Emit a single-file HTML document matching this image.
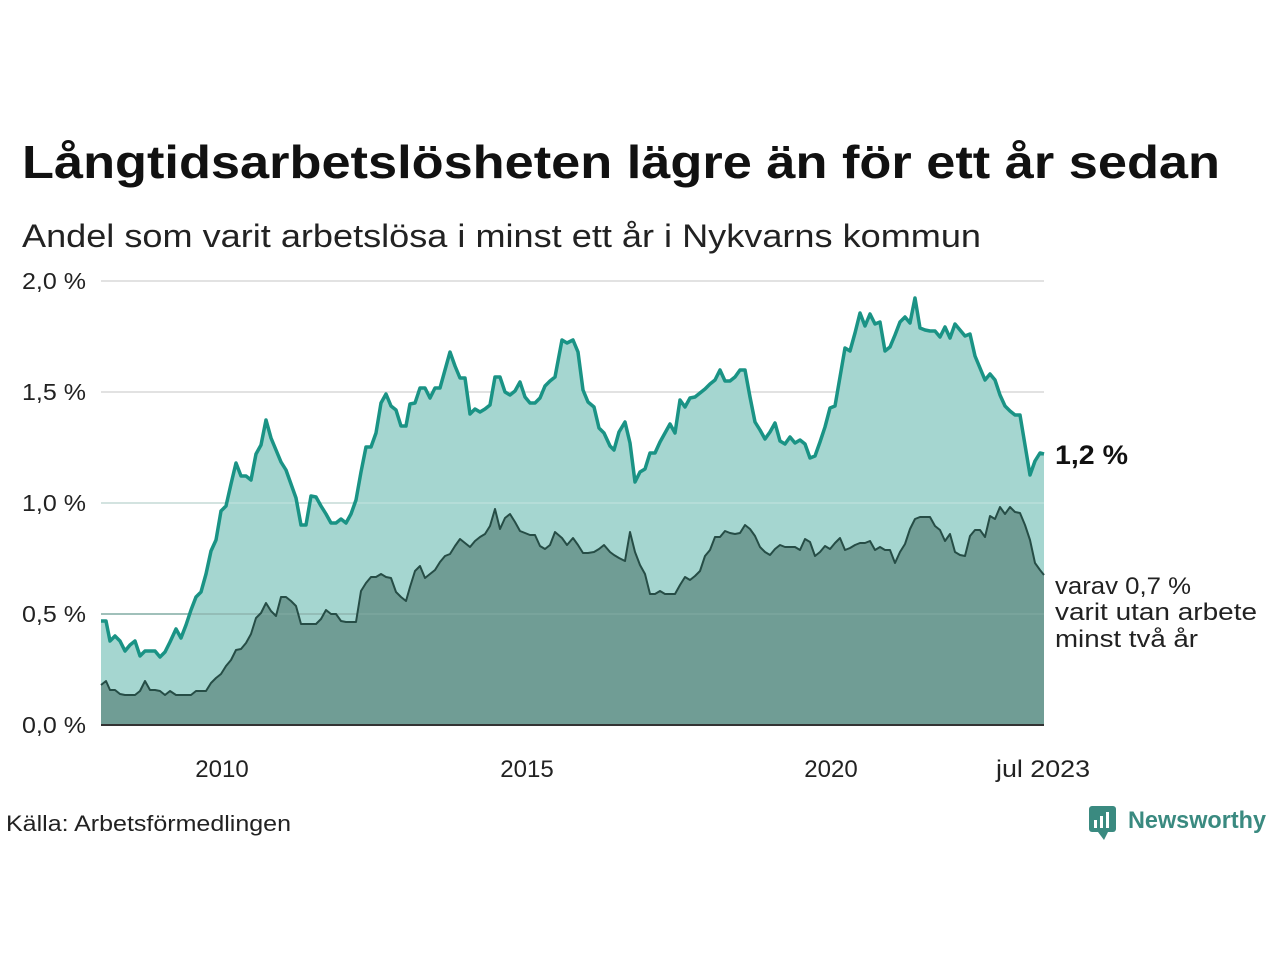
<!DOCTYPE html>
<html><head><meta charset="utf-8"><style>html,body{margin:0;padding:0;background:#fff}svg{display:block}</style></head><body>
<svg width="1280" height="960" viewBox="0 0 1280 960" xmlns="http://www.w3.org/2000/svg" font-family="Liberation Sans, DejaVu Sans, sans-serif">
<rect width="1280" height="960" fill="#fff"/>
<text x="22" y="178" font-size="46" font-weight="bold" fill="#111" textLength="1198" lengthAdjust="spacingAndGlyphs">Långtidsarbetslösheten lägre än för ett år sedan</text>
<text x="22" y="247" font-size="32" fill="#222" textLength="959" lengthAdjust="spacingAndGlyphs">Andel som varit arbetslösa i minst ett år i Nykvarns kommun</text>
<g stroke="#e2e2e2" stroke-width="2">
<line x1="101" y1="281" x2="1044" y2="281"/><line x1="101" y1="392" x2="1044" y2="392"/><line x1="101" y1="503" x2="1044" y2="503"/><line x1="101" y1="614" x2="1044" y2="614"/>
</g>
<g font-size="23" fill="#222">
<text x="22" y="289" textLength="64" lengthAdjust="spacingAndGlyphs">2,0 %</text><text x="22" y="400" textLength="64" lengthAdjust="spacingAndGlyphs">1,5 %</text><text x="22" y="511" textLength="64" lengthAdjust="spacingAndGlyphs">1,0 %</text><text x="22" y="622" textLength="64" lengthAdjust="spacingAndGlyphs">0,5 %</text><text x="22" y="733" textLength="64" lengthAdjust="spacingAndGlyphs">0,0 %</text>
</g>
<polygon fill="#a5d6d0" points="101,725 101,621 106,621 110,641 115,636 120,641 125,651 130,645 135,641 140,656 145,651 150,651 155,651 160,657 165,652 170,642 176,629 181,638 186,625 191,610 196,597 201,592 206,574 211,551 216,540 221,511 226,506 231,484 236,463 241,476 246,476 251,480 256,454 261,445 266,420 271,438 276,450 281,462 286,470 291,484 296,498 301,525 306,525 311,496 316,497 321,506 326,514 331,523 336,523 341,519 346,523 351,514 356,500 361,472 366,447 371,447 376,433 381,403 386,394 391,406 396,410 401,426 406,426 410,404 415,403 420,388 425,388 430,398 435,388 440,388 445,370 450,352 455,366 460,378 465,378 470,414 475,409 480,412 485,409 490,405 495,377 500,377 505,392 510,395 515,391 520,382 525,397 530,403 535,403 540,398 545,386 550,381 555,377 562,340 567,343 573,340 578,352 583,390 588,402 594,407 599,428 604,433 610,446 614,450 619,432 625,422 630,443 635,482 640,472 645,469 650,453 655,453 660,442 665,433 670,424 675,433 680,400 685,407 690,398 695,397 700,393 705,389 710,384 715,380 720,370 725,381 730,381 735,377 740,370 745,370 750,397 755,422 760,430 765,439 770,432 775,423 780,441 785,444 790,437 795,443 800,440 805,444 810,458 815,456 820,442 825,427 830,408 835,406 840,377 845,348 850,351 855,333 860,313 865,326 870,314 875,324 880,322 885,351 890,347 895,335 900,322 905,317 910,323 915,298 920,328 925,330 930,331 935,331 940,337 945,327 950,338 955,324 960,330 965,336 970,334 975,356 980,368 985,380 990,374 995,380 1000,395 1005,406 1010,411 1015,415 1020,415 1025,445 1030,475 1035,461 1040,453 1044,454 1044,725"/>
<g stroke="#c6e4e0" stroke-width="2" opacity="0.5">
<line x1="101" y1="503" x2="1044" y2="503"/><line x1="101" y1="614" x2="1044" y2="614"/></g>
<polygon fill="#709d95" points="101,725 101,685 106,681 110,690 115,690 120,694 125,695 130,695 135,695 140,691 145,681 150,690 155,690 160,691 165,695 170,691 176,695 181,695 186,695 191,695 196,691 201,691 206,691 211,683 216,678 221,674 226,666 231,660 236,650 241,649 246,643 251,634 256,618 261,613 266,603 271,611 276,616 281,597 286,597 291,601 296,606 301,624 306,624 311,624 316,624 321,619 326,610 331,614 336,614 341,621 346,622 351,622 356,622 361,591 366,583 371,577 376,577 381,574 386,577 391,578 396,592 401,597 406,601 410,587 415,571 420,566 425,578 430,574 435,570 440,562 445,556 450,554 455,546 460,539 465,543 470,547 475,541 480,537 485,534 490,526 495,509 500,529 505,518 510,514 515,522 520,531 525,533 530,535 535,535 540,546 545,549 550,545 555,532 562,538 567,545 573,538 578,545 583,553 588,553 594,552 599,549 604,545 610,552 614,555 619,558 625,561 630,532 635,552 640,565 645,574 650,594 655,594 660,591 665,594 670,594 675,594 680,585 685,577 690,580 695,576 700,571 705,556 710,550 715,537 720,537 725,531 730,533 735,534 740,533 745,525 750,529 755,536 760,547 765,552 770,555 775,549 780,545 785,547 790,547 795,547 800,550 805,539 810,542 815,556 820,552 825,546 830,549 835,543 840,538 845,550 850,548 855,545 860,543 865,543 870,541 875,550 880,547 885,550 890,550 895,563 900,552 905,544 910,529 915,519 920,517 925,517 930,517 935,526 940,530 945,541 950,534 955,552 960,555 965,556 970,536 975,530 980,530 985,537 990,516 995,519 1000,507 1005,514 1010,507 1015,512 1020,513 1025,525 1030,540 1035,563 1040,570 1044,575 1044,725"/>
<g stroke="#7fa9a2" stroke-width="2" opacity="0.6">
<line x1="101" y1="614" x2="1044" y2="614"/></g>
<polyline fill="none" stroke="#1a9385" stroke-width="3.5" stroke-linejoin="round" points="101,621 106,621 110,641 115,636 120,641 125,651 130,645 135,641 140,656 145,651 150,651 155,651 160,657 165,652 170,642 176,629 181,638 186,625 191,610 196,597 201,592 206,574 211,551 216,540 221,511 226,506 231,484 236,463 241,476 246,476 251,480 256,454 261,445 266,420 271,438 276,450 281,462 286,470 291,484 296,498 301,525 306,525 311,496 316,497 321,506 326,514 331,523 336,523 341,519 346,523 351,514 356,500 361,472 366,447 371,447 376,433 381,403 386,394 391,406 396,410 401,426 406,426 410,404 415,403 420,388 425,388 430,398 435,388 440,388 445,370 450,352 455,366 460,378 465,378 470,414 475,409 480,412 485,409 490,405 495,377 500,377 505,392 510,395 515,391 520,382 525,397 530,403 535,403 540,398 545,386 550,381 555,377 562,340 567,343 573,340 578,352 583,390 588,402 594,407 599,428 604,433 610,446 614,450 619,432 625,422 630,443 635,482 640,472 645,469 650,453 655,453 660,442 665,433 670,424 675,433 680,400 685,407 690,398 695,397 700,393 705,389 710,384 715,380 720,370 725,381 730,381 735,377 740,370 745,370 750,397 755,422 760,430 765,439 770,432 775,423 780,441 785,444 790,437 795,443 800,440 805,444 810,458 815,456 820,442 825,427 830,408 835,406 840,377 845,348 850,351 855,333 860,313 865,326 870,314 875,324 880,322 885,351 890,347 895,335 900,322 905,317 910,323 915,298 920,328 925,330 930,331 935,331 940,337 945,327 950,338 955,324 960,330 965,336 970,334 975,356 980,368 985,380 990,374 995,380 1000,395 1005,406 1010,411 1015,415 1020,415 1025,445 1030,475 1035,461 1040,453 1044,454"/>
<polyline fill="none" stroke="#264d46" stroke-width="2" stroke-linejoin="round" points="101,685 106,681 110,690 115,690 120,694 125,695 130,695 135,695 140,691 145,681 150,690 155,690 160,691 165,695 170,691 176,695 181,695 186,695 191,695 196,691 201,691 206,691 211,683 216,678 221,674 226,666 231,660 236,650 241,649 246,643 251,634 256,618 261,613 266,603 271,611 276,616 281,597 286,597 291,601 296,606 301,624 306,624 311,624 316,624 321,619 326,610 331,614 336,614 341,621 346,622 351,622 356,622 361,591 366,583 371,577 376,577 381,574 386,577 391,578 396,592 401,597 406,601 410,587 415,571 420,566 425,578 430,574 435,570 440,562 445,556 450,554 455,546 460,539 465,543 470,547 475,541 480,537 485,534 490,526 495,509 500,529 505,518 510,514 515,522 520,531 525,533 530,535 535,535 540,546 545,549 550,545 555,532 562,538 567,545 573,538 578,545 583,553 588,553 594,552 599,549 604,545 610,552 614,555 619,558 625,561 630,532 635,552 640,565 645,574 650,594 655,594 660,591 665,594 670,594 675,594 680,585 685,577 690,580 695,576 700,571 705,556 710,550 715,537 720,537 725,531 730,533 735,534 740,533 745,525 750,529 755,536 760,547 765,552 770,555 775,549 780,545 785,547 790,547 795,547 800,550 805,539 810,542 815,556 820,552 825,546 830,549 835,543 840,538 845,550 850,548 855,545 860,543 865,543 870,541 875,550 880,547 885,550 890,550 895,563 900,552 905,544 910,529 915,519 920,517 925,517 930,517 935,526 940,530 945,541 950,534 955,552 960,555 965,556 970,536 975,530 980,530 985,537 990,516 995,519 1000,507 1005,514 1010,507 1015,512 1020,513 1025,525 1030,540 1035,563 1040,570 1044,575"/>
<line x1="101" y1="725" x2="1044" y2="725" stroke="#333" stroke-width="2"/>
<g font-size="24" fill="#222" text-anchor="middle">
<text x="222" y="777">2010</text><text x="527" y="777">2015</text><text x="831" y="777">2020</text><text x="1043" y="777" textLength="94" lengthAdjust="spacingAndGlyphs">jul 2023</text>
</g>
<text x="1055" y="464" font-size="27" font-weight="bold" fill="#111" textLength="73" lengthAdjust="spacingAndGlyphs">1,2 %</text>
<g font-size="24" fill="#222">
<text x="1055" y="594" textLength="136" lengthAdjust="spacingAndGlyphs">varav 0,7 %</text><text x="1055" y="620" textLength="202" lengthAdjust="spacingAndGlyphs">varit utan arbete</text><text x="1055" y="647" textLength="143" lengthAdjust="spacingAndGlyphs">minst två år</text>
</g>
<text x="6" y="831" font-size="22" fill="#222" textLength="285" lengthAdjust="spacingAndGlyphs">Källa: Arbetsförmedlingen</text>
<g>
<rect x="1089" y="806" width="27" height="26" rx="3" fill="#3a8a80"/>
<polygon points="1098,832 1104,840 1108,832" fill="#3a8a80"/>
<rect x="1094" y="820" width="3" height="8" fill="#fff"/><rect x="1100" y="816" width="3" height="12" fill="#fff"/><rect x="1106" y="812" width="3" height="16" fill="#fff"/>
<text x="1128" y="828" font-size="24" font-weight="bold" fill="#3a8a80" textLength="138" lengthAdjust="spacingAndGlyphs">Newsworthy</text>
</g>
</svg>
</body></html>
